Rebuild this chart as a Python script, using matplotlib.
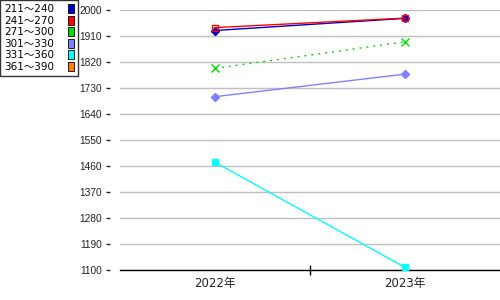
import matplotlib
matplotlib.use("Agg")
import matplotlib.pyplot as plt
from matplotlib.patches import Patch
from matplotlib.ticker import FixedLocator

plt.rcParams['font.family'] = ['DejaVu Sans', 'Noto Sans CJK JP']

years = ["2022年", "2023年"]
series_names = ["211～240", "241～270", "271～300", "301～330", "331～360", "361～390"]
colors = ["#0000cc", "#ff0000", "#00dd00", "#8080ff", "#00ffff", "#ff8000"]
v_211_240 = [1929, 1971]
v_241_270 = [1939, 1972]
v_271_300 = [1798, 1890]
v_301_330 = [1700, 1778]
v_331_360 = [1473, 1109]
v_361_390 = [None, None]
yticks = [1100, 1190, 1280, 1370, 1460, 1550, 1640, 1730, 1820, 1910, 2000]

fig = plt.figure(figsize=(5, 3), dpi=100)
ax = fig.add_axes([0.24, 0.1, 0.76, 0.8667])
for s in ['left', 'right', 'top']:
    ax.spines[s].set_visible(False)
ax.spines['bottom'].set_color('black')
ax.spines['bottom'].set_linewidth(1)

x = list(range(len(years)))

ax.plot(x, v_211_240, color=colors[0], lw=1, marker='D', ms=4, mfc=colors[0], mec=colors[0], zorder=3)
ax.plot(x, v_241_270, color=colors[1], lw=1, marker='s', ms=4, mfc='none', mec=colors[1], zorder=4)
ax.plot(x, v_271_300, color=colors[2], lw=1, ls=(0, (1.5, 3.5)), marker='x', ms=6, mew=1, mec=colors[2], zorder=3)
ax.plot(x, v_301_330, color=colors[3], lw=1, marker='D', ms=4.5, mfc=colors[3], mec=colors[3], zorder=3)
ax.plot(x, v_331_360, color=colors[4], lw=1, marker='s', ms=5, mfc=colors[4], mec=colors[4], zorder=3)

ax.set_xlim(-0.5, 1.5)
ax.set_ylim(1100, 2000)
ax.set_yticks(yticks)
ax.tick_params(axis='y', left=False, labelleft=False)
ax.set_xticks(x)
ax.set_xticklabels(years, fontsize=8.5, color='#222222')
ax.tick_params(axis='x', which='major', length=0, pad=5)
ax.xaxis.set_minor_locator(FixedLocator([0.5]))
ax.tick_params(axis='x', which='minor', length=7, direction='inout', color='black', width=1)
ax.grid(axis='y', color='#c0c0c0', lw=1)
ax.set_axisbelow(True)

# separate tick axis offset to the left of the plot area
axt = fig.add_axes([110 / 500, 0.1, 0.002, 0.8667])
axt.set_ylim(1100, 2000)
axt.set_yticks(yticks)
axt.set_yticklabels([str(v) for v in yticks], fontsize=7.3, color='#222222',
                    family=['Liberation Sans', 'DejaVu Sans'])
axt.set_xticks([])
axt.tick_params(axis='y', length=3, width=1, color='#222222', pad=3)
for s in axt.spines.values():
    s.set_visible(False)
axt.patch.set_visible(False)

handles = [Patch(facecolor=c, edgecolor='black', linewidth=0.6) for c in colors]
leg = fig.legend(handles, series_names, loc='upper left', bbox_to_anchor=(0.0, 1.0),
                 markerfirst=False, fontsize=7.5, frameon=True, fancybox=False,
                 handlelength=0.6, handleheight=1.0, handletextpad=1.3,
                 labelspacing=0.12, borderpad=0.4, borderaxespad=0.0)
leg.get_frame().set_edgecolor('black')
leg.get_frame().set_linewidth(1)

fig.savefig("out.png", dpi=100)
